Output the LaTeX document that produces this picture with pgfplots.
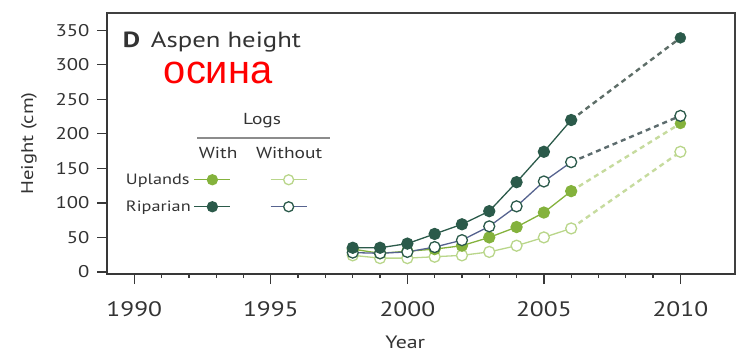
\documentclass[border=0pt]{standalone}
\usepackage{fontspec}
\setmainfont{PT Sans}[FakeStretch=1.22]
\newfontfamily\redfont{Liberation Sans}
\usepackage{pgfplots}
\pgfplotsset{compat=1.18}
\definecolor{ripdark}{HTML}{2B5A4A}
\definecolor{riplineo}{HTML}{56638F}
\definecolor{uplgreen}{HTML}{84B23C}
\definecolor{uplopen}{HTML}{B9D68A}
\definecolor{ripdash}{HTML}{5E6E68}
\definecolor{upldash}{HTML}{C6DB9E}
\definecolor{txt}{HTML}{333333}
\begin{document}
\begin{tikzpicture}
\begin{axis}[name=ax, scale only axis, width=628bp, height=261bp,
  xmin=1989, xmax=2012, ymin=-3, ymax=375, clip=false,
  axis line style={line width=1.5bp, color=black!78},
  xtick={1990,1995,2000,2005,2010}, minor x tick num=4,
  ytick={0,50,100,150,200,250,300,350},
  tick align=outside, major tick length=10bp, minor tick length=4bp,
  xtick pos=left, ytick pos=left,
  tick style={line width=1.3bp, color=black!78},
  /pgf/number format/1000 sep={}, /pgf/number format/assume math mode=true,
  yticklabel style={font=\fontsize{17}{18}\selectfont, color=txt, xshift=-4bp},
  xticklabel style={font=\fontsize{21}{22}\selectfont, color=txt, yshift=-14bp},
  ylabel={Height (cm)}, ylabel style={font=\fontsize{17}{20}\selectfont, color=txt, yshift=12bp},
  xlabel={Year}, xlabel style={font=\fontsize{18}{20}\selectfont, color=txt, at={(ticklabel cs:0.475)}, yshift=-12bp},
  legend plot pos=right,
  legend columns=2,
  legend cell align=left,
  legend image code/.code={\draw[mark repeat=2,mark phase=2,#1] plot coordinates {(0bp,0bp)(18bp,0bp)(36bp,0bp)};},
  legend style={draw=none, fill=none, at={(rel axis cs:0.022,0.40)}, anchor=north west,
    font=\fontsize{15}{16}\selectfont, text=txt, column sep=1bp, row sep=11bp,
    /tikz/every even column/.append style={column sep=34bp}},
]
% dashed extensions
\addplot[forget plot, ripdash, line width=2.4bp, dash pattern=on 5bp off 4bp] coordinates {(2006,220) (2010,339)};
\addplot[forget plot, ripdash!85!riplineo, line width=2.4bp, dash pattern=on 5bp off 4bp] coordinates {(2006,159) (2010,226)};
\addplot[forget plot, upldash, line width=2.4bp, dash pattern=on 5bp off 4bp] coordinates {(2006,117) (2010,215)};
\addplot[forget plot, upldash, line width=2.4bp, dash pattern=on 5bp off 4bp] coordinates {(2006,63) (2010,174)};
% uplands without
\addplot[forget plot, uplopen, line width=1.3bp, mark=*, mark size=5.5bp, mark options={fill=white, draw=uplopen, line width=1.3bp}]
  coordinates {(1998,24) (1999,20) (2000,20) (2001,22) (2002,24) (2003,29) (2004,38) (2005,50) (2006,63)};
\addplot[forget plot, only marks, mark=*, mark size=5.5bp, mark options={fill=white, draw=uplopen, line width=1.3bp}]
  coordinates {(2010,174)};
% uplands with
\addplot[forget plot, uplgreen, line width=1.3bp, mark=*, mark size=5.5bp, mark options={fill=uplgreen, draw=uplgreen}]
  coordinates {(1998,33) (1999,27) (2000,30) (2001,33) (2002,38) (2003,50) (2004,65) (2005,86) (2006,117)};
\addplot[forget plot, only marks, mark=*, mark size=5.5bp, mark options={fill=uplgreen, draw=uplgreen}]
  coordinates {(2010,215)};
% riparian without
\addplot[forget plot, riplineo, line width=1.3bp, mark=*, mark size=5.5bp, mark options={fill=white, draw=ripdark, line width=1.3bp}]
  coordinates {(1998,28) (1999,27) (2000,29) (2001,36) (2002,46) (2003,66) (2004,95) (2005,131) (2006,159)};
\addplot[forget plot, only marks, mark=*, mark size=5.5bp, mark options={fill=white, draw=ripdark, line width=1.3bp}]
  coordinates {(2010,226)};
% riparian with
\addplot[forget plot, ripdark, line width=1.3bp, mark=*, mark size=5.5bp, mark options={fill=ripdark, draw=ripdark}]
  coordinates {(1998,35) (1999,35) (2000,41) (2001,55) (2002,69) (2003,88) (2004,130) (2005,174) (2006,220)};
\addplot[forget plot, only marks, mark=*, mark size=5.5bp, mark options={fill=ripdark, draw=ripdark}]
  coordinates {(2010,339)};
% legend
\addlegendimage{uplgreen, line width=1.3bp, mark=*, mark size=5bp, mark options={fill=uplgreen, draw=uplgreen}}
\addlegendentry{Uplands}
\addlegendimage{uplopen, line width=1.3bp, mark=*, mark size=5bp, mark options={fill=white, draw=uplopen, line width=1.3bp}}
\addlegendentry{\hspace{0pt}}
\addlegendimage{ripdark, line width=1.3bp, mark=*, mark size=5bp, mark options={fill=ripdark, draw=ripdark}}
\addlegendentry{Riparian}
\addlegendimage{riplineo, line width=1.3bp, mark=*, mark size=5bp, mark options={fill=white, draw=ripdark, line width=1.3bp}}
\addlegendentry{\hspace{0pt}}
% texts
\node[anchor=west, font=\fontsize{22}{24}\selectfont, text=txt] at (axis cs:1989.45,333) {\textbf{D}\, Aspen height};
\node[font=\redfont\fontsize{40}{42}\selectfont, text=red] at (axis cs:1993.07,288) {осина};
\node[font=\fontsize{16}{17}\selectfont, text=txt] at (axis cs:1994.68,219) {Logs};
\draw[line width=1.5bp, black!45] (axis cs:1992.3,194) -- (axis cs:1997.17,194);
\node[font=\fontsize{16}{17}\selectfont, text=txt] at (axis cs:1993.07,172) {With};
\node[font=\fontsize{16}{17}\selectfont, text=txt] at (axis cs:1995.67,172) {Without};
\end{axis}
\draw[line width=2bp, black!75] (ax.south east) -- (ax.north east) -- (ax.north west);
\path[use as bounding box] ([xshift=-107bp,yshift=-78bp]ax.south west) rectangle ([xshift=6bp,yshift=13bp]ax.north east);
\end{tikzpicture}
\end{document}
